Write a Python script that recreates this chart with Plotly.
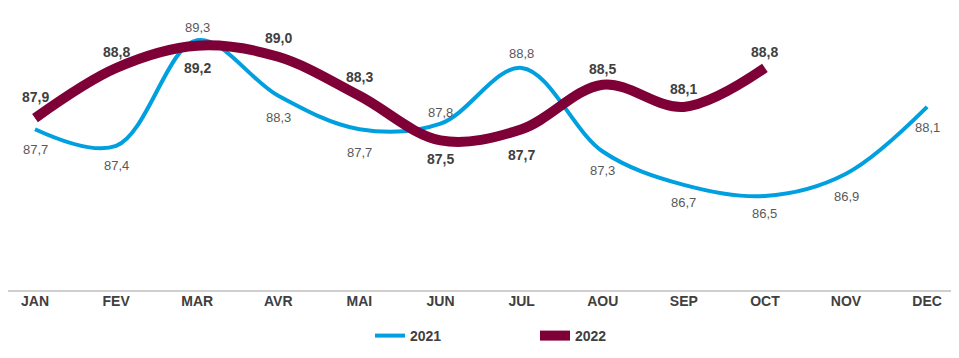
import plotly.graph_objects as go

months = ["JAN", "FEV", "MAR", "AVR", "MAI", "JUN", "JUL", "AOU", "SEP", "OCT", "NOV", "DEC"]
vals_2021 = [87.7, 87.4, 89.3, 88.3, 87.7, 87.8, 88.8, 87.3, 86.7, 86.5, 86.9, 88.1]
vals_2022 = [87.9, 88.8, 89.2, 89.0, 88.3, 87.5, 87.7, 88.5, 88.1, 88.8]

# label offsets (pixels, style only)
shift_2021 = [20, 20, -13, 22, 23, -11, -14, 19, 18, 17, 23, 21]
shift_2022 = [-21, -16, 22, -19, -19, 19, 26, -16, -18, -16]

BLUE = "#009FDF"
MAROON = "#7F0037"
FONT = "Liberation Sans, Arial"

def fmt(v):
    return f"{v:.1f}".replace(".", ",")

fig = go.Figure()
fig.add_trace(go.Scatter(x=months, y=vals_2021, mode="lines", name="2021",
                         line=dict(color=BLUE, width=4, shape="spline", smoothing=1.0)))
fig.add_trace(go.Scatter(x=months[:len(vals_2022)], y=vals_2022, mode="lines", name="2022",
                         line=dict(color=MAROON, width=10, shape="spline", smoothing=1.0)))

ann = []
for m, v, s in zip(months, vals_2021, shift_2021):
    ann.append(dict(x=m, y=v, text=fmt(v), showarrow=False, yshift=-s,
                    font=dict(family=FONT, size=13, color="#595959")))
for m, v, s in zip(months, vals_2022, shift_2022):
    ann.append(dict(x=m, y=v, text="<b>" + fmt(v) + "</b>", showarrow=False, yshift=-s,
                    font=dict(family=FONT, size=14, color="#404040")))

W, H = 951, 350
fig.update_layout(
    width=W, height=H,
    margin=dict(l=0, r=0, t=0, b=67, autoexpand=False),
    paper_bgcolor="white", plot_bgcolor="white",
    font=dict(family=FONT, color="#404040"),
    annotations=ann,
    shapes=[dict(type="line", xref="paper", yref="paper", x0=-8 / W, x1=1, y0=0, y1=0,
                 line=dict(color="#BFBFBF", width=1.5), layer="below")],
    showlegend=True,
    legend=dict(orientation="h", xref="container", yref="container",
                x=362 / W, xanchor="left", y=22 / H, yanchor="middle",
                font=dict(size=14, color="#404040", family=FONT, weight="bold"),
                entrywidth=120, entrywidthmode="pixels", itemwidth=30,
                bgcolor="rgba(0,0,0,0)"),
    xaxis=dict(type="category", range=[-0.333, 11.393], showgrid=False, automargin=False,
               showline=False, ticks="",
               tickfont=dict(size=14, color="#404040", family=FONT, weight="bold")),
    yaxis=dict(range=[84.794, 89.877], showgrid=False, showticklabels=False, zeroline=False,
               showline=False, automargin=False),
)
fig.write_html("out.html")
